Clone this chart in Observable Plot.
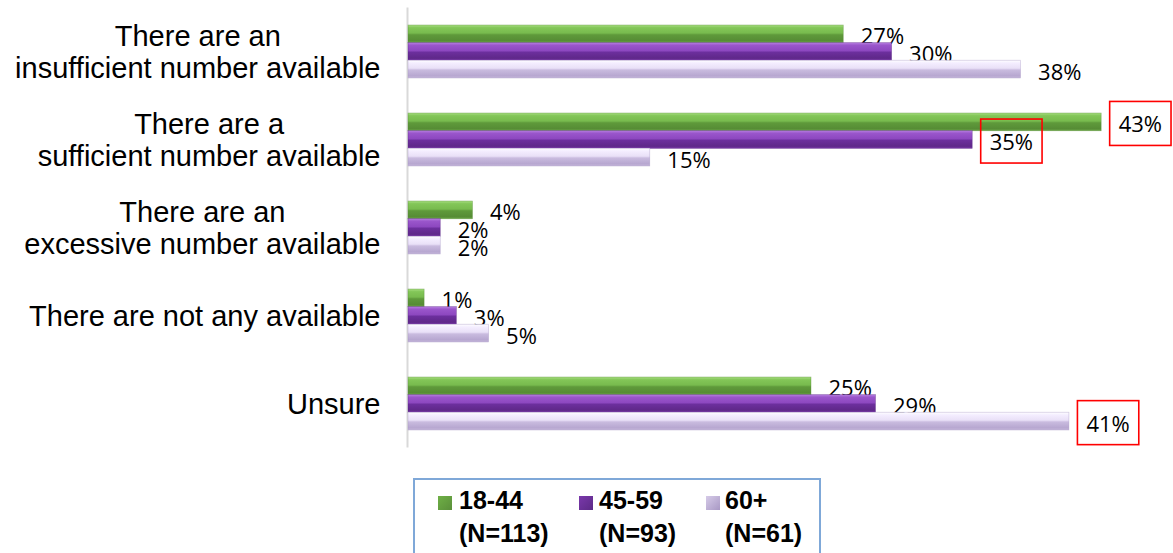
<!DOCTYPE html>
<html>
<head>
<meta charset="utf-8">
<script src="https://cdn.jsdelivr.net/npm/d3@7"></script>
<script src="https://cdn.jsdelivr.net/npm/@observablehq/plot@0.6"></script>
<style>
  html, body { margin: 0; padding: 0; background: #fff; }
  #wrap { position: relative; width: 1173px; height: 553px; overflow: hidden; }
  #legend {
    position: absolute; left: 413px; top: 478px; width: 404px; height: 80px;
    border: 2px solid #7fa8d8; box-sizing: content-box;
    font-family: "Liberation Sans", Arial, sans-serif; font-weight: bold; font-size: 25px; color: #000;
  }
  .item { position: absolute; top: 4px; line-height: 33px; }
  .sw { position: absolute; width: 14px; height: 14px; top: 16px; }
</style>
</head>
<body>
<div id="wrap">
  <div id="chart"></div>
  <div id="legend"></div>
</div>
<script>
// ---- data ----
const categories = [
  "There are an\ninsufficient number available",
  "There are a\nsufficient number available",
  "There are an\nexcessive number available",
  "There are not any available",
  "Unsure"
];
const seriesNames = ["18-44", "45-59", "60+"];
const seriesN = ["(N=113)", "(N=93)", "(N=61)"];
const values1844 = [27, 43, 4, 1, 25];
const values4559 = [30, 35, 2, 3, 29];
const values60 = [38, 15, 2, 5, 41];
// labels boxed in red in the original
const boxed1844 = [false, true, false, false, false];
const boxed4559 = [false, true, false, false, false];
const boxed60 = [false, false, false, false, true];

const seriesValues = [values1844, values4559, values60];
const seriesBoxed = [boxed1844, boxed4559, boxed60];
const gradIds = ["gGreen", "gPurple", "gLav"];
const strokes = ["#5a8f3a", "#5c2a86", "#a898c4"];
const swatch = ["#6fb046", "#7a38ab", "#d6cbe8"];

const rows = [];
seriesNames.forEach((s, i) => categories.forEach((c, j) => rows.push({
  series: s, si: i, category: c, value: seriesValues[i][j], boxed: seriesBoxed[i][j]
})));

// ---- layout ----
const W = 1173, H = 460, mTop = 7.5, mBottom = 12.5, mLeft = 408;
const step = (H - mTop - mBottom) / categories.length;
const bw = step * 0.6, sub = bw / 3;

const marks = [
  Plot.ruleX([0], {stroke: "#d9d9d9", strokeWidth: 2, dx: -1}),
  Plot.axisY({tickSize: 0, tickPadding: 28, fontSize: 29, lineHeight: 1.1, label: null,
              fontFamily: "Liberation Sans, Arial, sans-serif", fill: "#000"})
];
seriesNames.forEach((s, i) => {
  const data = rows.filter(d => d.si === i);
  marks.push(Plot.barX(data, {
    x: "value", y: "category", fill: `url(#${gradIds[i]})`,
    stroke: strokes[i], strokeWidth: 0.6, strokeOpacity: 0.6,
    insetTop: i * sub, insetBottom: (2 - i) * sub
  }));
  const dy = -bw / 2 + sub * (i + 0.5) + 3;
  marks.push(Plot.text(data.filter(d => !d.boxed), {
    x: "value", y: "category", text: d => d.value + "%", textAnchor: "start",
    dx: 17, dy, fontSize: 22, fontFamily: "Open Sans, sans-serif", fill: "#000"
  }));
  marks.push(Plot.text(data.filter(d => d.boxed), {
    x: "value", y: "category", text: d => d.value + "%", textAnchor: "start",
    dx: 17, dy, fontSize: 22, fontFamily: "Open Sans, sans-serif", fill: "#000",
    className: "boxed-label"
  }));
});

const svg = Plot.plot({
  width: W, height: H,
  marginTop: mTop, marginBottom: mBottom, marginLeft: mLeft, marginRight: W - mLeft - 47 * 16.12,
  x: {domain: [0, 47], axis: null},
  y: {domain: categories, paddingInner: 0.4, paddingOuter: 0.2, align: 0.5, axis: null},
  style: {background: "#fff", overflow: "visible"},
  marks
});
document.getElementById("chart").appendChild(svg);

// gradients for the bevelled bars
const defs = d3.select(svg).insert("defs", ":first-child");
const gradStops = [
  ["gGreen", ["#a9df83", "#83c658", "#78bb4e", "#5f9a3b", "#568c35", "#6ba547"]],
  ["gPurple", ["#b67de0", "#9a56cb", "#8d48c0", "#6c2f9d", "#5f2889", "#7838a8"]],
  ["gLav", ["#ffffff", "#f4eeff", "#e9e0f7", "#c9bbdf", "#b7a7d0", "#c8badd"]]
];
gradStops.forEach(([id, cols]) => {
  const g = defs.append("linearGradient").attr("id", id)
    .attr("x1", 0).attr("y1", 0).attr("x2", 0).attr("y2", 1);
  [0, 0.15, 0.45, 0.55, 0.88, 1].forEach((o, k) =>
    g.append("stop").attr("offset", o).attr("stop-color", cols[k]));
});

// centre the lines of multi-line category labels
d3.select(svg).selectAll('g[aria-label="y-axis tick label"] text').each(function() {
  const tspans = Array.from(this.querySelectorAll("tspan"));
  if (tspans.length < 2) return;
  const maxW = d3.max(tspans, t => t.getComputedTextLength());
  tspans.forEach(t => {
    const x0 = +(t.getAttribute("x") || 0);
    t.setAttribute("text-anchor", "middle");
    t.setAttribute("x", x0 - maxW / 2);
  });
});

// red boxes around highlighted labels
d3.select(svg).selectAll("g.boxed-label text").each(function() {
  const b = this.getBBox();
  const r = document.createElementNS("http://www.w3.org/2000/svg", "rect");
  const px = 9, py = 7;
  r.setAttribute("x", b.x - px);
  r.setAttribute("y", b.y - py);
  r.setAttribute("width", b.width + 2 * px);
  r.setAttribute("height", b.height + 2 * py);
  r.setAttribute("fill", "none");
  r.setAttribute("stroke", "#ff0000");
  r.setAttribute("stroke-width", 1.6);
  const tr = this.getAttribute("transform");
  if (tr) r.setAttribute("transform", tr);
  this.parentNode.insertBefore(r, this);
});

// legend
const legend = document.getElementById("legend");
const swLeft = [23, 164, 291], txLeft = [44, 184, 310];
seriesNames.forEach((s, i) => {
  const sw = document.createElement("div");
  sw.className = "sw";
  sw.style.left = swLeft[i] + "px";
  sw.style.background = `linear-gradient(135deg, ${swatch[i]}, ${strokes[i]})`;
  legend.appendChild(sw);
  const tx = document.createElement("div");
  tx.className = "item";
  tx.style.left = txLeft[i] + "px";
  tx.innerHTML = s + "<br>" + seriesN[i];
  legend.appendChild(tx);
});
</script>
</body>
</html>
